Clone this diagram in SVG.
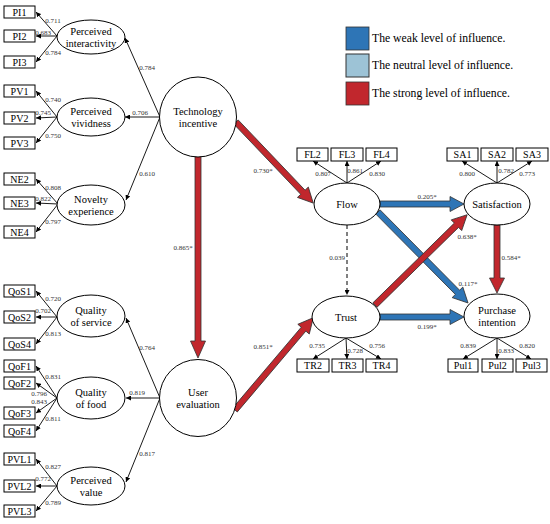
<svg xmlns="http://www.w3.org/2000/svg" width="550" height="524" viewBox="0 0 550 524" font-family="'Liberation Serif', 'Times New Roman', serif">
<defs>
<marker id="ah" viewBox="0 0 10 10" refX="10" refY="5" markerWidth="5" markerHeight="5" orient="auto" markerUnits="userSpaceOnUse">
<path d="M0,0 L10,5 L0,10 z" fill="#000"/>
</marker>
<style>
text{font-family:'Liberation Serif','Times New Roman',serif;fill:#000}
.lt{font-size:10.5px;text-anchor:middle}
.bx{font-size:10px;text-anchor:middle}
.ld{font-size:7px;text-anchor:middle;fill:#333}
.lg{font-size:11.7px}
.ln{stroke:#000;stroke-width:0.9;fill:none;marker-end:url(#ah)}
.dl{stroke:#000;stroke-width:1;fill:none;stroke-dasharray:4,3;marker-end:url(#ah)}
.nd{fill:#fff;stroke:#000;stroke-width:1}
.bxr{fill:#fff;stroke:#000;stroke-width:1}
.red{fill:#C1272D;stroke:#333;stroke-width:0.8}
.blue{fill:#2E75B6;stroke:#333;stroke-width:0.8}
.lb{fill:#9DC3D6;stroke:#333;stroke-width:1}
</style>
</defs>
<rect width="550" height="524" fill="#fff"/>

<g id="legend">
<rect x="346" y="27" width="23" height="23" class="blue"/>
<rect x="346" y="54" width="23" height="23" class="lb"/>
<rect x="346" y="82" width="23" height="23" class="red"/>
<text x="372" y="42" class="lg">The weak level of influence.</text>
<text x="372" y="69" class="lg">The neutral level of influence.</text>
<text x="372" y="97" class="lg">The strong level of influence.</text>
</g>

<g id="connectors">
<line x1="57" y1="36" x2="36" y2="12" class="ln"/>
<line x1="57" y1="36" x2="36" y2="36" class="ln"/>
<line x1="57" y1="36" x2="36" y2="62" class="ln"/>
<line x1="57" y1="117" x2="36" y2="91" class="ln"/>
<line x1="57" y1="117" x2="36" y2="118" class="ln"/>
<line x1="57" y1="117" x2="36" y2="143" class="ln"/>
<line x1="58" y1="204" x2="36" y2="179" class="ln"/>
<line x1="58" y1="204" x2="36" y2="203" class="ln"/>
<line x1="58" y1="204" x2="36" y2="232" class="ln"/>
<line x1="57" y1="317" x2="36" y2="291" class="ln"/>
<line x1="57" y1="317" x2="36" y2="317" class="ln"/>
<line x1="57" y1="317" x2="36" y2="344" class="ln"/>
<line x1="57" y1="398" x2="36" y2="366" class="ln"/>
<line x1="57" y1="398" x2="36" y2="383" class="ln"/>
<line x1="57" y1="398" x2="36" y2="413" class="ln"/>
<line x1="57" y1="398" x2="36" y2="431" class="ln"/>
<line x1="57" y1="486" x2="36" y2="459" class="ln"/>
<line x1="57" y1="486" x2="36" y2="486" class="ln"/>
<line x1="57" y1="486" x2="36" y2="511" class="ln"/>
<line x1="160" y1="117" x2="125" y2="38" class="ln"/>
<line x1="160" y1="117" x2="125" y2="117" class="ln"/>
<line x1="160" y1="117" x2="126" y2="200" class="ln"/>
<line x1="160" y1="398" x2="126" y2="318" class="ln"/>
<line x1="160" y1="398" x2="126" y2="398" class="ln"/>
<line x1="160" y1="398" x2="126" y2="482" class="ln"/>
<line x1="347" y1="183" x2="313" y2="161" class="ln"/>
<line x1="347" y1="183" x2="347" y2="161" class="ln"/>
<line x1="347" y1="183" x2="381" y2="161" class="ln"/>
<line x1="497" y1="183" x2="462" y2="161" class="ln"/>
<line x1="497" y1="183" x2="497" y2="161" class="ln"/>
<line x1="497" y1="183" x2="532" y2="161" class="ln"/>
<line x1="346" y1="338" x2="313" y2="359" class="ln"/>
<line x1="346" y1="338" x2="347" y2="359" class="ln"/>
<line x1="346" y1="338" x2="381" y2="359" class="ln"/>
<line x1="497" y1="338" x2="463" y2="359" class="ln"/>
<line x1="497" y1="338" x2="497" y2="359" class="ln"/>
<line x1="497" y1="338" x2="531" y2="359" class="ln"/>
<line x1="347" y1="225" x2="347" y2="295" class="dl"/>
<path class="red" transform="translate(236,122) rotate(46.4)" d="M0,-3 H97 V-7.5 L112,0 L97,7.5 V3 H0 Z"/>
<path class="red" transform="translate(198,156) rotate(90)" d="M0,-3 H185 V-7.5 L202,0 L185,7.5 V3 H0 Z"/>
<path class="red" transform="translate(235,410) rotate(-49.7)" d="M0,-3 H106 V-7.5 L121,0 L106,7.5 V3 H0 Z"/>
<path class="blue" transform="translate(380,204)" d="M0,-3 H70 V-7.5 L84,0 L70,7.5 V3 H0 Z"/>
<path class="blue" transform="translate(378,212) rotate(45.3)" d="M0,-3 H113 V-7.5 L128,0 L113,7.5 V3 H0 Z"/>
<path class="red" transform="translate(375,305) rotate(-44.4)" d="M0,-3 H114 V-7.5 L129,0 L114,7.5 V3 H0 Z"/>
<path class="blue" transform="translate(380,317)" d="M0,-3 H70 V-7.5 L84,0 L70,7.5 V3 H0 Z"/>
<path class="red" transform="translate(497,225) rotate(90)" d="M0,-3 H53 V-7.5 L68,0 L53,7.5 V3 H0 Z"/>

<text x="53" y="23" class="ld">0.711</text>
<text x="43" y="35" class="ld">0.683</text>
<text x="53" y="55" class="ld">0.784</text>
<text x="53" y="102" class="ld">0.740</text>
<text x="43" y="115" class="ld">0.745</text>
<text x="53" y="138" class="ld">0.750</text>
<text x="53" y="190" class="ld">0.808</text>
<text x="43" y="201" class="ld">0.822</text>
<text x="53" y="224" class="ld">0.797</text>
<text x="53" y="301" class="ld">0.720</text>
<text x="43" y="313" class="ld">0.702</text>
<text x="53" y="336" class="ld">0.813</text>
<text x="53" y="379" class="ld">0.831</text>
<text x="39" y="396" class="ld">0.796</text>
<text x="39" y="404" class="ld">0.843</text>
<text x="53" y="421" class="ld">0.811</text>
<text x="53" y="469" class="ld">0.827</text>
<text x="43" y="481" class="ld">0.772</text>
<text x="53" y="505" class="ld">0.789</text>
<text x="147" y="70" class="ld">0.784</text>
<text x="140" y="115" class="ld">0.706</text>
<text x="147" y="176" class="ld">0.610</text>
<text x="147" y="350" class="ld">0.764</text>
<text x="137" y="395" class="ld">0.819</text>
<text x="147" y="456" class="ld">0.817</text>
<text x="263" y="173" class="ld">0.730*</text>
<text x="183" y="250" class="ld">0.865*</text>
<text x="263" y="349" class="ld">0.851*</text>
<text x="427" y="199" class="ld">0.205*</text>
<text x="468" y="286" class="ld">0.117*</text>
<text x="467" y="239" class="ld">0.638*</text>
<text x="427" y="329" class="ld">0.199*</text>
<text x="337" y="260" class="ld">0.039</text>
<text x="511" y="260" class="ld">0.584*</text>
<text x="323" y="176" class="ld">0.807</text>
<text x="355" y="173" class="ld">0.861</text>
<text x="377" y="176" class="ld">0.830</text>
<text x="467" y="176" class="ld">0.800</text>
<text x="506" y="173" class="ld">0.782</text>
<text x="527" y="176" class="ld">0.773</text>
<text x="317" y="348" class="ld">0.735</text>
<text x="355" y="353" class="ld">0.728</text>
<text x="377" y="348" class="ld">0.756</text>
<text x="468" y="348" class="ld">0.839</text>
<text x="506" y="353" class="ld">0.833</text>
<text x="527" y="348" class="ld">0.820</text>
</g>

<g id="PI1"><rect x="4" y="6" width="31" height="12" class="bxr"/><text x="19.5" y="15.5" class="bx">PI1</text></g>
<g id="PI2"><rect x="4" y="30" width="31" height="12" class="bxr"/><text x="19.5" y="39.5" class="bx">PI2</text></g>
<g id="PI3"><rect x="4" y="56" width="31" height="12" class="bxr"/><text x="19.5" y="65.5" class="bx">PI3</text></g>
<g id="PV1"><rect x="4" y="85" width="31" height="12" class="bxr"/><text x="19.5" y="94.5" class="bx">PV1</text></g>
<g id="PV2"><rect x="4" y="112" width="31" height="12" class="bxr"/><text x="19.5" y="121.5" class="bx">PV2</text></g>
<g id="PV3"><rect x="4" y="137" width="31" height="12" class="bxr"/><text x="19.5" y="146.5" class="bx">PV3</text></g>
<g id="NE2"><rect x="4" y="173" width="31" height="12" class="bxr"/><text x="19.5" y="182.5" class="bx">NE2</text></g>
<g id="NE3"><rect x="4" y="197" width="31" height="12" class="bxr"/><text x="19.5" y="206.5" class="bx">NE3</text></g>
<g id="NE4"><rect x="4" y="226" width="31" height="12" class="bxr"/><text x="19.5" y="235.5" class="bx">NE4</text></g>
<g id="QoS1"><rect x="4" y="285" width="31" height="12" class="bxr"/><text x="19.5" y="294.5" class="bx">QoS1</text></g>
<g id="QoS2"><rect x="4" y="311" width="31" height="12" class="bxr"/><text x="19.5" y="320.5" class="bx">QoS2</text></g>
<g id="QoS4"><rect x="4" y="338" width="31" height="12" class="bxr"/><text x="19.5" y="347.5" class="bx">QoS4</text></g>
<g id="QoF1"><rect x="4" y="360" width="31" height="12" class="bxr"/><text x="19.5" y="369.5" class="bx">QoF1</text></g>
<g id="QoF2"><rect x="4" y="377" width="31" height="12" class="bxr"/><text x="19.5" y="386.5" class="bx">QoF2</text></g>
<g id="QoF3"><rect x="4" y="407" width="31" height="12" class="bxr"/><text x="19.5" y="416.5" class="bx">QoF3</text></g>
<g id="QoF4"><rect x="4" y="425" width="31" height="12" class="bxr"/><text x="19.5" y="434.5" class="bx">QoF4</text></g>
<g id="PVL1"><rect x="4" y="453" width="31" height="12" class="bxr"/><text x="19.5" y="462.5" class="bx">PVL1</text></g>
<g id="PVL2"><rect x="4" y="480" width="31" height="12" class="bxr"/><text x="19.5" y="489.5" class="bx">PVL2</text></g>
<g id="PVL3"><rect x="4" y="505" width="31" height="12" class="bxr"/><text x="19.5" y="514.5" class="bx">PVL3</text></g>

<g id="FL2"><rect x="297" y="148" width="31" height="13" class="bxr"/><text x="312.5" y="158" class="bx">FL2</text></g>
<g id="FL3"><rect x="331" y="148" width="32" height="13" class="bxr"/><text x="347" y="158" class="bx">FL3</text></g>
<g id="FL4"><rect x="366" y="148" width="31" height="13" class="bxr"/><text x="381.5" y="158" class="bx">FL4</text></g>
<g id="SA1"><rect x="447" y="148" width="31" height="13" class="bxr"/><text x="462.5" y="158" class="bx">SA1</text></g>
<g id="SA2"><rect x="481" y="148" width="32" height="13" class="bxr"/><text x="497" y="158" class="bx">SA2</text></g>
<g id="SA3"><rect x="516" y="148" width="32" height="13" class="bxr"/><text x="532" y="158" class="bx">SA3</text></g>
<g id="TR2"><rect x="297" y="359" width="32" height="13" class="bxr"/><text x="313" y="369" class="bx">TR2</text></g>
<g id="TR3"><rect x="332" y="359" width="31" height="13" class="bxr"/><text x="347.5" y="369" class="bx">TR3</text></g>
<g id="TR4"><rect x="366" y="359" width="31" height="13" class="bxr"/><text x="381.5" y="369" class="bx">TR4</text></g>
<g id="Pul1"><rect x="448" y="359" width="30" height="13" class="bxr"/><text x="463" y="369" class="bx">Pul1</text></g>
<g id="Pul2"><rect x="482" y="359" width="31" height="13" class="bxr"/><text x="497.5" y="369" class="bx">Pul2</text></g>
<g id="Pul3"><rect x="516" y="359" width="31" height="13" class="bxr"/><text x="531.5" y="369" class="bx">Pul3</text></g>

<g id="perceived-interactivity"><ellipse cx="91" cy="37" rx="34" ry="17" class="nd"/><text x="91" y="35" class="lt">Perceived</text><text x="91" y="47" class="lt">interactivity</text></g>
<g id="perceived-vividness"><ellipse cx="91" cy="117" rx="34" ry="19" class="nd"/><text x="91" y="115" class="lt">Perceived</text><text x="91" y="127" class="lt">vividness</text></g>
<g id="novelty-experience"><ellipse cx="91" cy="205" rx="34" ry="20" class="nd"/><text x="91" y="203" class="lt">Novelty</text><text x="91" y="215" class="lt">experience</text></g>
<g id="quality-of-service"><ellipse cx="91" cy="316" rx="34" ry="21" class="nd"/><text x="91" y="314" class="lt">Quality</text><text x="91" y="326" class="lt">of service</text></g>
<g id="quality-of-food"><ellipse cx="91" cy="398" rx="34" ry="21" class="nd"/><text x="91" y="396" class="lt">Quality</text><text x="91" y="408" class="lt">of food</text></g>
<g id="perceived-value"><ellipse cx="91" cy="486" rx="34" ry="19" class="nd"/><text x="91" y="484" class="lt">Perceived</text><text x="91" y="496" class="lt">value</text></g>
<g id="technology-incentive"><ellipse cx="198" cy="117" rx="38.5" ry="40" class="nd"/><text x="198" y="115" class="lt">Technology</text><text x="198" y="127" class="lt">incentive</text></g>
<g id="user-evaluation"><ellipse cx="198" cy="398" rx="38.5" ry="38.5" class="nd"/><text x="198" y="396" class="lt">User</text><text x="198" y="408" class="lt">evaluation</text></g>
<g id="flow"><ellipse cx="347" cy="204" rx="33" ry="21" class="nd"/><text x="347" y="208" class="lt">Flow</text></g>
<g id="trust"><ellipse cx="346" cy="317" rx="34" ry="21" class="nd"/><text x="346" y="321" class="lt">Trust</text></g>
<g id="satisfaction"><ellipse cx="497" cy="204" rx="33" ry="21" class="nd"/><text x="497" y="208" class="lt">Satisfaction</text></g>
<g id="purchase-intention"><ellipse cx="497" cy="316" rx="33" ry="22" class="nd"/><text x="497" y="314" class="lt">Purchase</text><text x="497" y="326" class="lt">intention</text></g>
</svg>
